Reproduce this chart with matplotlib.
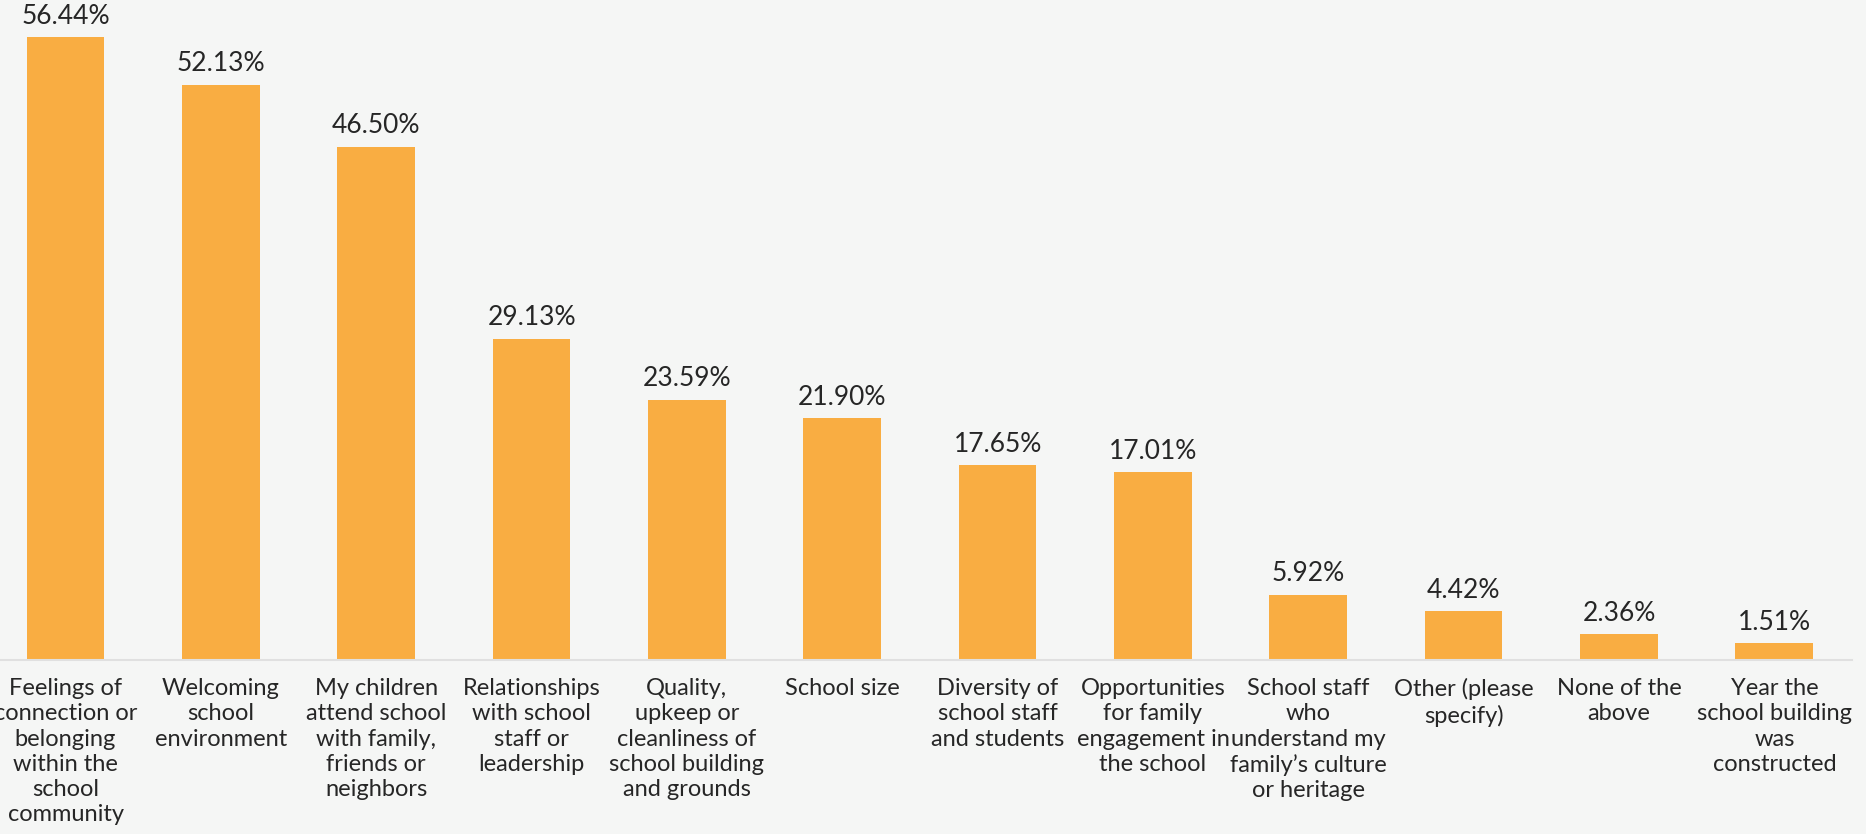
import numpy as np
import matplotlib.pyplot as plt

# Survey answers and share of respondents (%)
categories = [
    "Feelings of\nconnection or\nbelonging\nwithin the\nschool\ncommunity",
    "Welcoming\nschool\nenvironment",
    "My children\nattend school\nwith family,\nfriends or\nneighbors",
    "Relationships\nwith school\nstaff or\nleadership",
    "Quality,\nupkeep or\ncleanliness of\nschool building\nand grounds",
    "School size",
    "Diversity of\nschool staff\nand students",
    "Opportunities\nfor family\nengagement in\nthe school",
    "School staff\nwho\nunderstand my\nfamily\u2019s culture\nor heritage",
    "Other (please\nspecify)",
    "None of the\nabove",
    "Year the\nschool building\nwas\nconstructed",
]
values = [56.44, 52.13, 46.50, 29.13, 23.59, 21.90, 17.65, 17.01, 5.92, 4.42, 2.36, 1.51]

bg = "#f5f6f5"
bar_color = "#f9ad42"
text_color = "#262626"

plt.rcParams["font.family"] = ["Lato", "DejaVu Sans"]

fig = plt.figure(figsize=(18.66, 8.34), dpi=100, facecolor=bg)
ax = fig.add_axes([0.0, 0.2086, 0.9925, 0.7914], facecolor=bg)

x = np.arange(len(categories))
bars = ax.bar(x, values, width=0.5, color=bar_color)

for xi, v in zip(x, values):
    ax.annotate(f"{v:.2f}%", (xi, v), xytext=(0, 6), textcoords="offset points",
                ha="center", va="bottom", fontsize=19, color=text_color)

ax.set_xlim(-0.422, 11.50)
ax.set_ylim(0, 59.8)
ax.set_xticks(x)
ax.set_xticklabels(categories, fontsize=17, color=text_color, linespacing=1.25, va="top")
ax.tick_params(axis="x", length=0, pad=13)
ax.set_yticks([])
for side in ["top", "right", "left"]:
    ax.spines[side].set_visible(False)
ax.spines["bottom"].set_color("#e0e0e0")
ax.spines["bottom"].set_linewidth(1.5)

fig.savefig("out.png", dpi=100, facecolor=bg)
